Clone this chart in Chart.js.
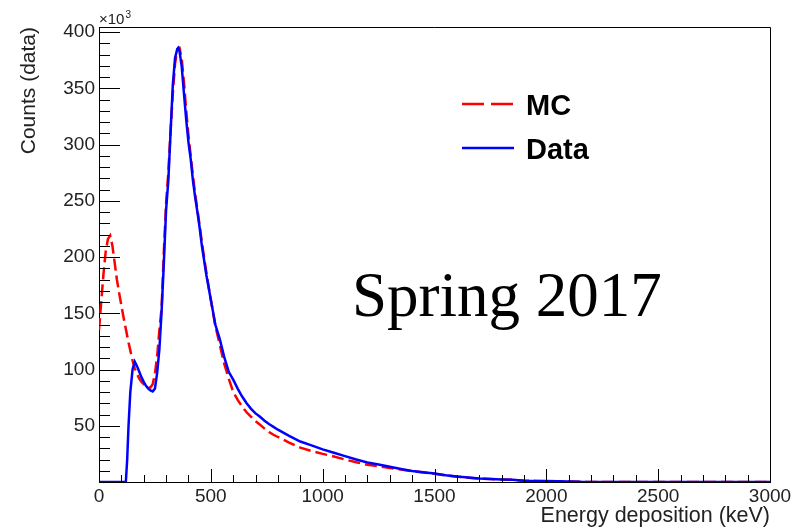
<!DOCTYPE html>
<html>
<head>
<meta charset="utf-8">
<script src="https://cdn.jsdelivr.net/npm/chart.js@4/dist/chart.umd.min.js"></script>
<style>
  body { margin: 0; background: #fff; }
  #wrap { width: 798px; height: 532px; }
</style>
</head>
<body>
<div id="wrap"><canvas id="spectrum" width="798" height="532"></canvas></div>
<script>
const energies = [
  0, 10, 20, 30, 40, 50, 60, 70, 80, 90, 100, 110, 120, 126, 132, 140, 150, 160,
  170, 180, 190, 200, 210, 220, 230, 240, 250, 260, 270, 280, 290, 300, 310, 320,
  330, 340, 350, 355, 360, 370, 380, 390, 400, 410, 420, 430, 440, 450, 460, 480,
  500, 520, 540, 560, 580, 600, 620, 640, 660, 680, 700, 720, 740, 760, 780, 800,
  850, 900, 950, 1000, 1050, 1100, 1150, 1200, 1250, 1300, 1350, 1400, 1450, 1500,
  1550, 1600, 1650, 1700, 1750, 1800, 1850, 1900, 1950, 2000, 2050, 2100, 2150,
  2160, 3000
];

const dataCounts = [
  0, 0, 0, 0, 0, 0, 0, 0, 0, 0, 0, 0, 0, 20000, 50000, 80000, 100000, 107000,
  103000, 98000, 93000, 89000, 85500, 83000, 81500, 80500, 83000, 97000, 118000, 152000, 195000, 242000, 268000, 311000,
  353000, 377000, 385000, 386000, 383000, 369000, 345000, 322000, 302000, 287000, 268000, 253000, 240000, 226000, 210000, 184000,
  162000, 140000, 127000, 111000, 98000, 91000, 83000, 76000, 70000, 65000, 61000, 58000, 54500, 51500, 49000, 46500,
  41000, 36000, 32500, 29000, 26000, 23000, 20000, 17400, 15600, 13600, 11600, 9800, 8600, 7500,
  6000, 4800, 3900, 3100, 2700, 2300, 2000, 1200, 1000, 800, 600, 500, 300,
  0, 0
];

const mcCounts = [
  135000, 160000, 185000, 205000, 216000, 219000, 210000, 195000, 180000, 168000, 157000, 146000, 136000, 130000, 124000, 117000, 108000, 101000,
  96000, 92000, 89000, 87000, 85000, 84000, 84000, 87000, 96000, 112000, 135000, 155000, 205000, 248000, 275000, 312000,
  345000, 372000, 384000, 386000, 386000, 376000, 355000, 330000, 308000, 290000, 272000, 256000, 242000, 228000, 213000, 186000,
  162000, 139000, 122000, 105000, 92000, 80000, 73000, 67000, 62000, 58000, 54000, 51000, 47500, 44500, 42000, 40000,
  35000, 30500, 27500, 25000, 22700, 20000, 17500, 15400, 14000, 12500, 11000, 9600, 8400, 7300,
  5900, 4700, 3800, 3000, 2600, 2200, 1900, 1200, 1000, 700, 500, 400, 200,
  0, 0
];

const xTickStep = 500;
const yTickStep = 50000;
const yTickValues = [50000, 100000, 150000, 200000, 250000, 300000, 350000, 400000];

function toPoints(values) {
  return energies.map((x, i) => ({ x: x, y: values[i] }));
}

const sans = "'Liberation Sans', Arial, Helvetica, sans-serif";

// ROOT style frame: inward ticks, closed box, legend and labels
const rootFrame = {
  id: "rootFrame",
  afterDraw(chart) {
    const ctx = chart.ctx;
    const area = chart.chartArea;
    const xs = chart.scales.x;
    const ys = chart.scales.y;
    ctx.save();
    ctx.strokeStyle = "#000";
    ctx.lineWidth = 1;

    // top and right frame
    ctx.beginPath();
    ctx.moveTo(area.left, area.top + 0.5);
    ctx.lineTo(area.right + 0.5, area.top + 0.5);
    ctx.lineTo(area.right + 0.5, area.bottom);
    ctx.stroke();

    // x ticks
    ctx.beginPath();
    for (let v = 0; v <= xs.max; v += 100) {
      const px = Math.round(xs.getPixelForValue(v)) + 0.5;
      const len = v % xTickStep === 0 ? 13 : 7;
      ctx.moveTo(px, area.bottom);
      ctx.lineTo(px, area.bottom - len);
    }
    // y ticks
    for (let v = 0; v <= ys.max; v += 10000) {
      const py = Math.round(ys.getPixelForValue(v)) + 0.5;
      const len = v % yTickStep === 0 ? 21 : 11;
      ctx.moveTo(area.left, py);
      ctx.lineTo(area.left + len, py);
    }
    ctx.stroke();

    // x10^3 on the y axis
    ctx.fillStyle = "#222";
    ctx.textBaseline = "alphabetic";
    ctx.textAlign = "left";
    ctx.font = "15px " + sans;
    ctx.fillText("\u00d710", area.left, 24);
    const w = ctx.measureText("\u00d710").width;
    ctx.font = "10px " + sans;
    ctx.fillText("3", area.left + w + 1, 18);

    // legend
    const ds = chart.data.datasets;
    const rows = [
      { set: ds[1], y: 104 },
      { set: ds[0], y: 148 }
    ];
    rows.forEach(r => {
      ctx.beginPath();
      ctx.strokeStyle = r.set.borderColor;
      ctx.lineWidth = 2.5;
      ctx.setLineDash(r.set.borderDash ? [22, 7] : []);
      ctx.moveTo(462, r.y);
      ctx.lineTo(514, r.y);
      ctx.stroke();
      ctx.setLineDash([]);
      ctx.fillStyle = "#000";
      ctx.font = "bold 29px " + sans;
      ctx.fillText(r.set.label, 526, r.y + 11);
    });

    // period label
    ctx.font = "63px 'Liberation Serif', 'Times New Roman', serif";
    ctx.fillStyle = "#000";
    ctx.fillText("Spring 2017", 352, 316);
    ctx.restore();
  }
};

new Chart(document.getElementById("spectrum").getContext("2d"), {
  type: "line",
  data: {
    datasets: [
      {
        label: "Data",
        data: toPoints(dataCounts),
        borderColor: "#0000ff",
        borderWidth: 2.5,
        pointRadius: 0,
        tension: 0,
        fill: false
      },
      {
        label: "MC",
        data: toPoints(mcCounts),
        borderColor: "#ff0000",
        borderWidth: 2.5,
        borderDash: [12, 5],
        pointRadius: 0,
        tension: 0,
        fill: false
      }
    ]
  },
  options: {
    responsive: false,
    animation: false,
    layout: { padding: { top: 27, right: 28, left: 0, bottom: 0 } },
    plugins: {
      legend: { display: false },
      tooltip: { enabled: false }
    },
    scales: {
      x: {
        type: "linear",
        min: 0,
        max: 3000,
        grid: { display: false, drawTicks: false },
        border: { display: true, color: "#000", width: 1 },
        ticks: {
          stepSize: xTickStep,
          padding: 3,
          maxRotation: 0,
          autoSkip: false,
          color: "#222",
          font: { family: sans, size: 19 },
          callback: v => String(v)
        },
        title: {
          display: true,
          text: "Energy deposition (keV)",
          align: "end",
          color: "#222",
          font: { family: sans, size: 21.5 },
          padding: { top: 0, bottom: 3 }
        },
        afterFit(scale) { scale.height = 50; }
      },
      y: {
        min: 0,
        max: 404500,
        grid: { display: false, drawTicks: false },
        border: { display: true, color: "#000", width: 1 },
        afterBuildTicks(scale) {
          scale.ticks = yTickValues.map(v => ({ value: v }));
        },
        ticks: {
          padding: 4,
          color: "#222",
          font: { family: sans, size: 19 },
          callback: v => String(v / 1000)
        },
        title: {
          display: true,
          text: "Counts (data)",
          align: "end",
          color: "#222",
          font: { family: sans, size: 21 },
          padding: { top: 17, bottom: 0 }
        },
        afterFit(scale) { scale.width = 99; }
      }
    }
  },
  plugins: [rootFrame]
});
</script>
</body>
</html>
